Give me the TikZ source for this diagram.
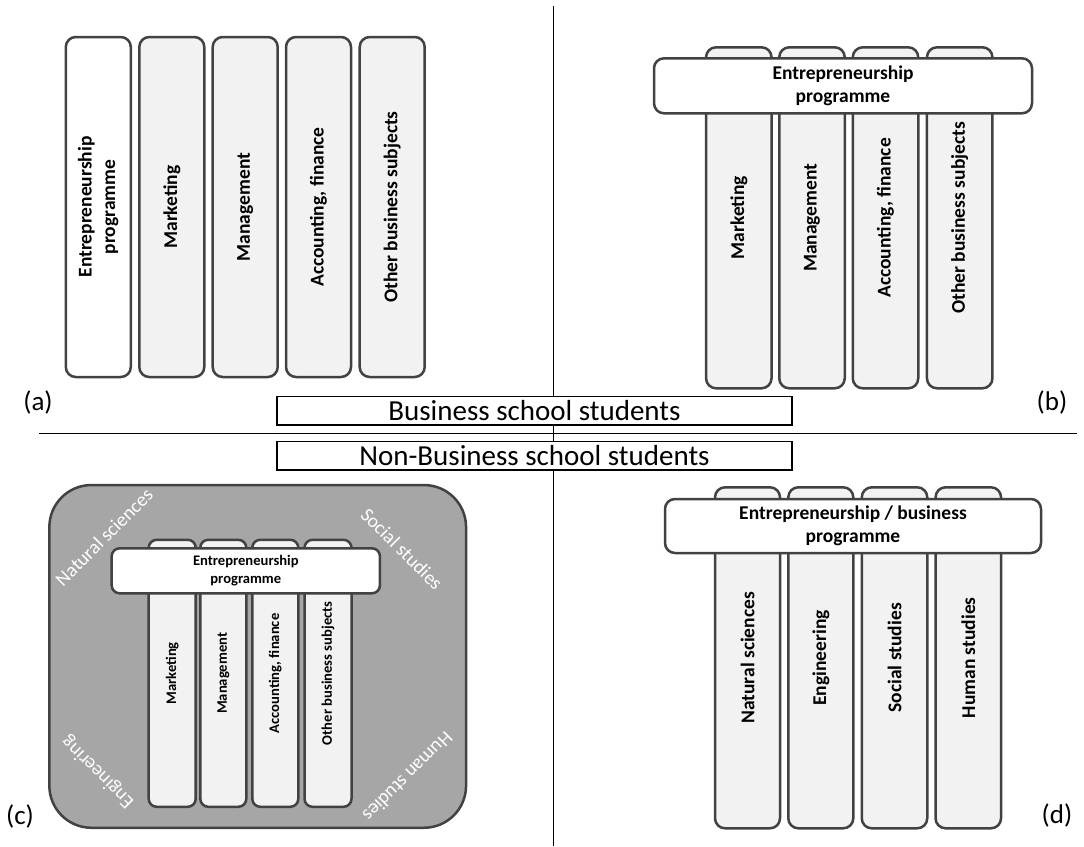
\documentclass[tikz,border=0pt]{standalone}
\usepackage{fontspec}
\setmainfont{Carlito}
\definecolor{bord}{HTML}{424242}
\definecolor{colfill}{HTML}{F2F2F2}
\definecolor{bigfill}{HTML}{A6A6A6}
\tikzset{
  col/.style={draw=bord, line width=2.5pt, rounded corners=10pt, fill=colfill, rotate=90,
     inner sep=0pt, align=center, font=\bfseries\fontsize{19.5}{23.5}\selectfont},
  colw/.style={col, fill=white},
  smallcol/.style={col, rounded corners=8pt, font=\bfseries\fontsize{14.6}{17.5}\selectfont},
  banner/.style={draw=bord, line width=2.5pt, rounded corners=10pt, fill=white, inner sep=0pt,
     align=center, font=\bfseries\fontsize{19.5}{23.5}\selectfont},
  smallbanner/.style={banner, rounded corners=8pt, font=\bfseries\fontsize{14.6}{17.5}\selectfont},
  tag/.style={inner sep=0pt, font=\fontsize{27}{30}\selectfont},
  titlebox/.style={draw=black, line width=1.2pt, fill=white, inner sep=0pt,
     font=\fontsize{29}{30}\selectfont},
  divider/.style={draw=black, line width=1.3pt},
  corner/.style={inner sep=0pt, text=white, font=\fontsize{19.5}{22}\selectfont},
}
\begin{document}
\begin{tikzpicture}[x=1pt, y=-1pt]
\useasboundingbox (0,0) rectangle (1084,846);
% dividers
\coordinate (vtop) at (553.3,6);
\coordinate (vbot) at (553.3,846);
\coordinate (hl) at (39,433.3);
\coordinate (hr) at (1077,433.3);
\draw[divider] (vtop) -- (vbot);
\draw[divider] (hl) -- (hr);
\node[titlebox, minimum width=515pt, minimum height=28.3pt] (bss) at (534.5,410.8) {Business school students};
\node[titlebox, minimum width=515pt, minimum height=28.3pt] (nbss) at (534.5,455.8) {Non-Business school students};

% panel (a)
\node[colw, minimum width=340pt, minimum height=65pt] (a1) at (98.3,207) {Entrepreneurship\\programme};
\node[col, minimum width=340pt, minimum height=65pt] (a2) at (171.8,207) {Marketing};
\node[col, minimum width=340pt, minimum height=65pt] (a3) at (245.2,207) {Management};
\node[col, minimum width=340pt, minimum height=65pt] (a4) at (318.5,207) {Accounting, finance};
\node[col, minimum width=340pt, minimum height=65pt] (a5) at (392.2,207) {Other business subjects};
\node[tag] (la) at (38,402) {(a)};

% panel (b)
\node[col, minimum width=341pt, minimum height=65.5pt] (b1) at (738.8,217.8) {Marketing};
\node[col, minimum width=341pt, minimum height=65.5pt] (b2) at (812,217.8) {Management};
\node[col, minimum width=341pt, minimum height=65.5pt] (b3) at (885.5,217.8) {Accounting, finance};
\node[col, minimum width=341pt, minimum height=65.5pt] (b4) at (959.7,217.8) {Other business subjects};
\node[banner, minimum width=378pt, minimum height=55pt] (bb) at (843,85.8) {Entrepreneurship\\programme};
\node[tag] (lb) at (1052,402) {(b)};

% panel (c)
\node[draw=bord, line width=2.5pt, fill=bigfill, rounded corners=42pt, minimum width=416.7pt, minimum height=342.7pt, inner sep=0pt] (cbig) at (257.7,656.4) {};
\node[smallcol, minimum width=267pt, minimum height=47pt] (c1) at (172.2,673.3) {Marketing};
\node[smallcol, minimum width=267pt, minimum height=46pt] (c2) at (223.3,673.3) {Management};
\node[smallcol, minimum width=267pt, minimum height=46pt] (c3) at (275.3,673.3) {Accounting, finance};
\node[smallcol, minimum width=267pt, minimum height=47pt] (c4) at (328,673.3) {Other business subjects};
\node[smallbanner, minimum width=268.3pt, minimum height=45pt] (cb) at (245.8,570.8) {Entrepreneurship\\programme};
\node[corner, rotate=45] (cns) at (104,537) {Natural sciences};
\node[corner, rotate=-45] (css) at (402,549) {Social studies};
\node[corner, rotate=135] (cen) at (98,772) {Engineering};
\node[corner, rotate=225] (chs) at (408,777) {Human studies};
\node[tag] (lc) at (20,816) {(c)};

% panel (d)
\node[col, minimum width=341pt, minimum height=65pt] (d1) at (747.5,657.8) {Natural sciences};
\node[col, minimum width=341pt, minimum height=65pt] (d2) at (820.8,657.8) {Engineering};
\node[col, minimum width=341pt, minimum height=65.5pt] (d3) at (894.5,657.8) {Social studies};
\node[col, minimum width=341pt, minimum height=65.5pt] (d4) at (968.3,657.8) {Human studies};
\node[banner, minimum width=376pt, minimum height=54pt] (db) at (853,526) {Entrepreneurship / business\\programme};
\node[tag] (ld) at (1057,815) {(d)};
\end{tikzpicture}
\end{document}
